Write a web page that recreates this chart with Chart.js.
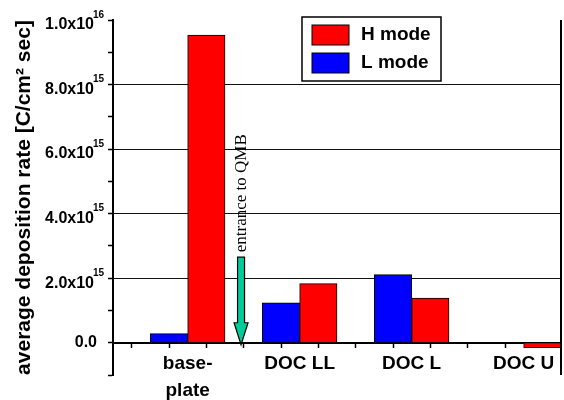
<!DOCTYPE html>
<html>
<head>
<meta charset="utf-8">
<script src="https://cdn.jsdelivr.net/npm/chart.js@4/dist/chart.umd.min.js"></script>
<style>
  html, body { margin: 0; padding: 0; background: #fff; }
  #wrap { width: 564px; height: 400px; position: relative; }
</style>
</head>
<body>
<div id="wrap"><canvas id="chart"></canvas></div>
<script>
// values
const categories = ["base-plate", "DOC LL", "DOC L", "DOC U"];
const hMode = [9.53e15, 1.83e15, 1.38e15, -1.5e14];
const lMode = [2.8e14, 1.24e15, 2.11e15, 0];
const seriesNames = ["H mode", "L mode"];
const yMin = -1e15, yMax = 1e16, yStep = 1e15;

// arrow annotation
const arrowX = 3.43;
const arrowTop = 2.65e15;
const arrowText = "entrance to QMB";

const cores = { h: "#ff0000", l: "#0000ff", seta: "#00cc99", linha: "#000" };
const fonte = "'Liberation Sans', Arial, sans-serif";
Chart.defaults.font.family = fonte;
Chart.defaults.color = "#000";

// each category sits on slot 2, 5, 8, 11 of a 0..12 axis
const slot = i => 2 + 3 * i;
const toPoints = arr => arr.map((v, i) => ({ x: slot(i), y: v }));

function labelFor(v) {
  const i = (v - 2) / 3;
  if (!Number.isInteger(i) || i < 0 || i >= categories.length) return "";
  const c = categories[i];
  if (c.includes("-")) {
    const [a, b] = c.split("-");
    return [a + "-", b];
  }
  return c;
}

// y tick labels with superscript exponent
const yLabels = {
  id: "yLabels",
  afterDraw(chart) {
    const y = chart.scales.y, ctx = chart.ctx;
    const ax = chart.chartArea.left;
    ctx.save();
    ctx.fillStyle = "#000";
    ctx.textBaseline = "middle";
    y.ticks.forEach(t => {
      const n = Math.round(t.value / yStep);
      if (n < 0 || n % 2 !== 0) return;
      const py = y.getPixelForValue(t.value);
      if (n === 0) {
        ctx.font = "bold 16px " + fonte;
        ctx.textAlign = "right";
        ctx.fillText("0.0", ax - 16, py);
        return;
      }
      const exp = Math.floor(Math.log10(t.value) + 1e-9);
      const m = t.value / Math.pow(10, exp);
      ctx.font = "bold 16px " + fonte;
      ctx.textAlign = "right";
      ctx.fillText(m.toFixed(1) + "x10", ax - 19, py + 5);
      ctx.font = "bold 10px " + fonte;
      ctx.textAlign = "left";
      ctx.fillText(String(exp), ax - 20, py - 5);
    });
    ctx.restore();
  }
};

// right frame, arrow, legend box
const extras = {
  id: "extras",
  afterDraw(chart) {
    const ctx = chart.ctx, a = chart.chartArea;
    const x = chart.scales.x, y = chart.scales.y;
    ctx.save();

    ctx.strokeStyle = "#000";
    ctx.lineWidth = 2;
    ctx.beginPath();
    ctx.moveTo(a.right, a.top);
    ctx.lineTo(a.right, a.bottom);
    ctx.stroke();

    // arrow
    const px = x.getPixelForValue(arrowX);
    const top = y.getPixelForValue(arrowTop);
    const tip = y.getPixelForValue(0) + 2;
    const headY = tip - 22;
    ctx.beginPath();
    ctx.moveTo(px - 3.5, top);
    ctx.lineTo(px + 3.5, top);
    ctx.lineTo(px + 3.5, headY);
    ctx.lineTo(px + 7, headY);
    ctx.lineTo(px, tip);
    ctx.lineTo(px - 7, headY);
    ctx.lineTo(px - 3.5, headY);
    ctx.closePath();
    ctx.fillStyle = cores.seta;
    ctx.fill();
    ctx.lineWidth = 1.2;
    ctx.stroke();

    ctx.save();
    ctx.translate(px + 5, top - 5);
    ctx.rotate(-Math.PI / 2);
    ctx.font = "17px 'Liberation Serif', 'Times New Roman', serif";
    ctx.fillStyle = "#000";
    ctx.textAlign = "left";
    ctx.textBaseline = "alphabetic";
    ctx.fillText(arrowText, 0, 0);
    ctx.restore();

    // legend
    const bx = a.left + 189, by = a.top - 3, bw = 139, bh = 64;
    ctx.fillStyle = "#fff";
    ctx.fillRect(bx, by, bw, bh);
    ctx.lineWidth = 1.5;
    ctx.strokeRect(bx, by, bw, bh);
    const ds = chart.data.datasets.slice().reverse();
    ds.forEach((d, i) => {
      const ry = by + 8 + i * 28;
      ctx.fillStyle = d.backgroundColor;
      ctx.fillRect(bx + 10, ry, 37, 20);
      ctx.lineWidth = 1;
      ctx.strokeRect(bx + 10, ry, 37, 20);
      ctx.fillStyle = "#000";
      ctx.font = "bold 19px " + fonte;
      ctx.textAlign = "left";
      ctx.textBaseline = "middle";
      ctx.fillText(d.label, bx + 59, ry + 10);
    });
    ctx.restore();
  }
};

new Chart(document.getElementById("chart"), {
  type: "bar",
  data: {
    datasets: [
      {
        label: seriesNames[1],
        data: toPoints(lMode),
        backgroundColor: cores.l,
        borderColor: cores.linha,
        borderWidth: 1
      },
      {
        label: seriesNames[0],
        data: toPoints(hMode),
        backgroundColor: cores.h,
        borderColor: cores.linha,
        borderWidth: 1
      }
    ]
  },
  options: {
    responsive: true,
    maintainAspectRatio: false,
    animation: false,
    layout: { padding: { top: 20, right: 1, left: 0, bottom: 25 } },
    barThickness: "flex",
    categoryPercentage: 2 / 3,
    barPercentage: 1,
    plugins: { legend: { display: false }, tooltip: { enabled: false } },
    scales: {
      x: {
        type: "linear",
        position: { y: 0 },
        min: 0,
        max: 12,
        offset: false,
        afterFit: s => { s.height = 0; },
        ticks: {
          stepSize: 1,
          autoSkip: false,
          maxRotation: 0,
          padding: 3,
          callback: v => labelFor(v),
          font: { size: 19, weight: "bold", lineHeight: 1.45 },
          color: "#000"
        },
        grid: { drawOnChartArea: false, tickLength: 4, tickColor: "#000", tickWidth: 1.5 },
        border: { display: true, color: "#000", width: 2 }
      },
      y: {
        min: yMin,
        max: yMax,
        afterFit: s => { s.width = 113; },
        ticks: { stepSize: yStep, display: false },
        grid: {
          color: c => {
            const n = Math.round(c.tick.value / yStep);
            return (n >= 0 && n < 10 && n % 2 === 0) ? "#111" : "rgba(0,0,0,0)";
          },
          lineWidth: 1,
          tickLength: 5,
          tickColor: "#000",
          tickWidth: 1.5
        },
        border: { display: true, color: "#000", width: 2 },
        title: {
          display: true,
          text: "average deposition rate [C/cm\u00b2 sec]",
          font: { size: 21, weight: "bold", lineHeight: 1.2 },
          color: "#000",
          padding: { top: 12, bottom: 0 }
        }
      }
    }
  },
  plugins: [yLabels, extras]
});
</script>
</body>
</html>
